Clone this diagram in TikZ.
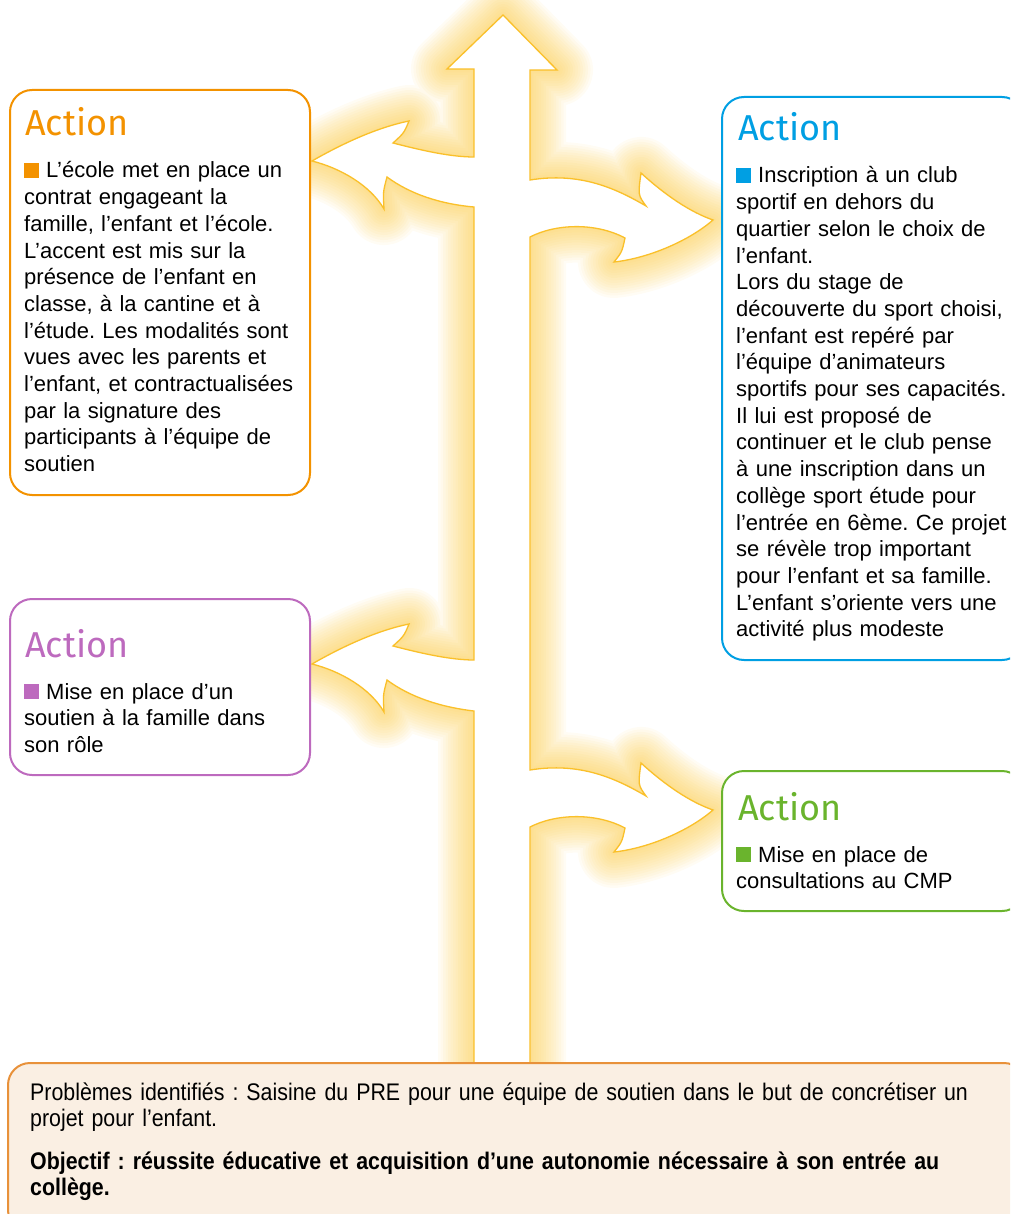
\documentclass[tikz,border=0pt]{standalone}
\usepackage{fontspec}
\setmainfont{Liberation Sans}
\newfontfamily\titrefont{Fira Sans}
\newfontfamily\etroitfont[FakeStretch=0.89]{Liberation Sans}
\usepackage{xcolor}
\usetikzlibrary{positioning}
\definecolor{actionOrange}{HTML}{F39200}
\definecolor{actionBleu}{HTML}{009FE3}
\definecolor{actionViolet}{HTML}{BD6ABE}
\definecolor{actionVert}{HTML}{6AB42D}
\definecolor{flecheBord}{HTML}{FAC02A}
\definecolor{flecheHalo}{HTML}{FBC431}
\definecolor{cadreBord}{HTML}{E8913A}
\definecolor{cadreFond}{HTML}{FAEFE3}
\newcommand{\carre}[1]{\textcolor{#1}{\rule{15pt}{15pt}}\hspace{7pt}}
\frenchspacing

\begin{document}
\begin{tikzpicture}[
        x=1pt, y=-1pt,
        boite/.style={
            draw=#1,
            line width=2pt,
            rounded corners=22pt,
            fill=white
        },
        titre/.style={
            font=\titrefont\fontsize{36}{40}\selectfont,
            text=#1,
            anchor=base west,
            inner sep=0pt
        },
        corps/.style={
            font=\fontsize{22}{26.7}\selectfont,
            anchor=base west,
            inner sep=0pt,
            align=left,
            text width=#1
        },
        bas/.style={
            font=\etroitfont\fontsize{24}{26.5}\selectfont,
            anchor=base west,
            inner sep=0pt,
            align=left,
            text width=980pt
        },
        halo/.style={
            draw=flecheHalo,
            line join=round,
            opacity=0.05
        }
    ]

    \useasboundingbox (0,0) rectangle (1010,1214);
    \clip (0,0) rectangle (1010,1214);

    \def\fleche{
        (503,15) -- (557,70) -- (530,70) -- (530,180)
        .. controls (580,172) and (615,188) .. (646,206)
        .. controls (638,195) .. (641,173)
        .. controls (665,195) and (690,212) .. (713,220)
        .. controls (690,240) and (650,258) .. (614,262)
        .. controls (622,252) .. (625,238)
        .. controls (595,222) and (555,224) .. (530,237)
        -- (530,770)
        .. controls (580,762) and (615,778) .. (646,796)
        .. controls (638,785) .. (641,763)
        .. controls (665,785) and (690,802) .. (713,810)
        .. controls (690,830) and (650,848) .. (614,852)
        .. controls (622,842) .. (625,828)
        .. controls (595,812) and (555,814) .. (530,827)
        -- (530,1090) -- (474,1090) -- (474,711)
        .. controls (440,707) and (410,697) .. (387,680)
        .. controls (383,695) .. (384,712)
        .. controls (370,688) and (340,671) .. (312,664)
        .. controls (340,648) and (375,631) .. (409,624)
        .. controls (404,636) .. (393,646)
        .. controls (420,653) and (450,660) .. (474,660)
        -- (474,207)
        .. controls (440,204) and (410,194) .. (387,177)
        .. controls (383,192) .. (384,209)
        .. controls (370,185) and (340,168) .. (312,161)
        .. controls (340,145) and (375,128) .. (409,121)
        .. controls (404,133) .. (393,143)
        .. controls (420,150) and (450,157) .. (474,157)
        -- (474,69) -- (447,69) -- cycle
    }

    \foreach \w in {72,67,62,57,52,47,42,37,32,27,22,17,12,7,3}{
        \draw[halo, line width=\w pt] \fleche;
    }
    \fill[white] \fleche;
    \draw[flecheBord, line width=1.3pt, line join=miter] \fleche;

    \draw[boite=actionOrange] (10,90) rectangle (310,495);
    \draw[boite=actionBleu] (722,97) rectangle (1024,660);
    \draw[boite=actionViolet] (10,599) rectangle (310,775);
    \draw[boite=actionVert] (722,771) rectangle (1024,911);
    \draw[boite=cadreBord, fill=cadreFond] (8,1063) rectangle (1026,1232);

    \node[titre=actionOrange] (titreEcole) at (25,136) {Action};
    \node[corps=290pt] (texteEcole) at (24,178) {\carre{actionOrange}L’école met en place un\\
        contrat engageant la\\
        famille, l’enfant et l’école.\\
        L’accent est mis sur la\\
        présence de l’enfant en\\
        classe, à la cantine et à\\
        l’étude. Les modalités sont\\
        vues avec les parents et\\
        l’enfant, et contractualisées\\
        par la signature des\\
        participants à l’équipe de\\
        soutien};

    \node[titre=actionBleu] (titreClub) at (738,141) {Action};
    \node[corps=290pt] (texteClub) at (736,183) {\carre{actionBleu}Inscription à un club\\
        sportif en dehors du\\
        quartier selon le choix de\\
        l’enfant.\\
        Lors du stage de\\
        découverte du sport choisi,\\
        l’enfant est repéré par\\
        l’équipe d’animateurs\\
        sportifs pour ses capacités.\\
        Il lui est proposé de\\
        continuer et le club pense\\
        à une inscription dans un\\
        collège sport étude pour\\
        l’entrée en 6ème. Ce projet\\
        se révèle trop important\\
        pour l’enfant et sa famille.\\
        L’enfant s’oriente vers une\\
        activité plus modeste};

    \node[titre=actionViolet] (titreFamille) at (25,657) {Action};
    \node[corps=290pt] (texteFamille) at (24,699) {\carre{actionViolet}Mise en place d’un\\
        soutien à la famille dans\\
        son rôle};

    \node[titre=actionVert] (titreCMP) at (738,820) {Action};
    \node[corps=290pt] (texteCMP) at (736,862) {\carre{actionVert}Mise en place de\\
        consultations au CMP};

    \node[bas] (probleme) at (30,1100) {Problèmes identifiés : Saisine du PRE pour une équipe de soutien dans le but de concrétiser un\\
        projet pour l’enfant.};
    \node[bas, font=\etroitfont\bfseries\fontsize{24}{26.5}\selectfont] (objectif) at (30,1169) {Objectif : réussite éducative et acquisition d’une autonomie nécessaire à son entrée au\\
        collège.};

\end{tikzpicture}
\end{document}
